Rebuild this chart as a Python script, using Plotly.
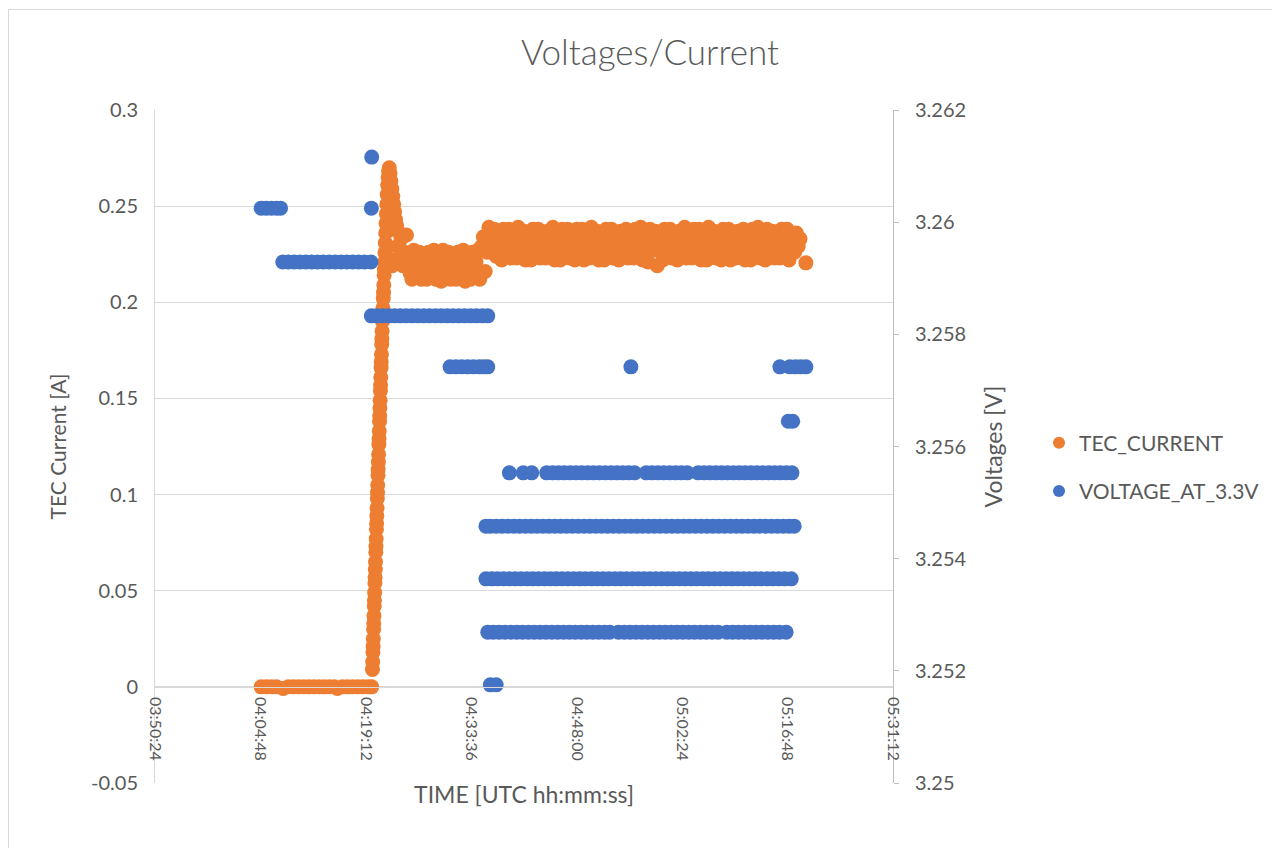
import pandas as pd
import plotly.graph_objects as go

# ---------------- data ----------------
DAY = "2021-01-01"
REF = pd.Timestamp(f"{DAY} 04:00:00")          # times below are minutes after 04:00:00

X_TICK_LABELS = ["03:50:24", "04:04:48", "04:19:12", "04:33:36",
                 "04:48:00", "05:02:24", "05:16:48", "05:31:12"]
Y1_TICK_VALS = [-0.05, 0, 0.05, 0.1, 0.15, 0.2, 0.25, 0.3]
Y1_TICK_TEXT = ["-0.05", "0", "0.05", "0.1", "0.15", "0.2", "0.25", "0.3"]
Y2_TICK_VALS = [3.25, 3.252, 3.254, 3.256, 3.258, 3.26, 3.262]
Y2_TICK_TEXT = ["3.25", "3.252", "3.254", "3.256", "3.258", "3.26", "3.262"]

# TEC_CURRENT [A]
TEC_ZERO_MIN = [4.9, 5.6, 6.3, 7.0, 7.9, 8.6, 9.3, 10.0, 10.7, 11.4, 12.1, 12.8,
                13.5, 14.2, 14.9, 15.3, 16.0, 16.7, 17.4, 18.1, 18.8, 19.5, 20.0]
TEC_ZERO_A = [0, 0, 0, 0, -0.0008, 0, 0, 0, 0, 0, 0, 0,
              0, 0, 0, -0.0008, 0, 0, 0, 0, 0, 0, 0]

TEC_RISE_MIN = [20.10, 20.13, 20.17, 20.19, 20.22, 20.26, 20.28, 20.31, 20.35, 20.37,
                20.40, 20.44, 20.46, 20.49, 20.52, 20.56, 20.58, 20.61, 20.65, 20.67,
                20.70, 20.73, 20.77, 20.79, 20.82, 20.86, 20.88, 20.91, 20.94, 20.98,
                21.00, 21.03, 21.07, 21.09, 21.12, 21.15, 21.19, 21.21, 21.24, 21.28,
                21.30, 21.33, 21.37, 21.39, 21.42, 21.46, 21.49, 21.53, 21.58, 21.61,
                21.65, 21.70, 21.73, 21.77, 21.82,
                21.86, 21.91, 21.96, 22.01, 22.06, 22.12, 22.18, 22.24, 22.31, 22.40,
                22.50, 22.62, 22.75, 22.88, 23.00, 23.12, 23.25, 23.40, 23.55,
                22.50, 22.80, 23.05]
TEC_RISE_A = [0.009, 0.013, 0.018, 0.021, 0.025, 0.030, 0.033, 0.037, 0.042, 0.045,
              0.049, 0.054, 0.057, 0.061, 0.065, 0.070, 0.073, 0.077, 0.082, 0.085,
              0.089, 0.093, 0.098, 0.101, 0.105, 0.110, 0.113, 0.117, 0.121, 0.126,
              0.129, 0.133, 0.138, 0.141, 0.145, 0.149, 0.154, 0.157, 0.161, 0.166,
              0.169, 0.173, 0.178, 0.181, 0.185, 0.190, 0.193, 0.197, 0.202, 0.205,
              0.209, 0.214, 0.217, 0.221, 0.226,
              0.231, 0.236, 0.241, 0.246, 0.251, 0.256, 0.261, 0.265, 0.268, 0.270,
              0.267, 0.263, 0.259, 0.255, 0.251, 0.247, 0.243, 0.240, 0.237,
              0.221, 0.219, 0.222]

TEC_LOW_MIN = [23.5, 23.75, 24.0, 24.25, 24.5, 24.75, 25.0, 25.25,
               25.5, 25.75, 26.0, 26.25, 26.5, 26.75, 27.0, 27.25,
               27.5, 27.75, 28.0, 28.25, 28.5, 28.75, 29.0, 29.25,
               29.5, 29.75, 30.0, 30.25, 30.5, 30.75, 31.0, 31.25,
               31.5, 31.75, 32.0, 32.25, 32.5, 32.75, 33.0, 33.25,
               33.5, 33.75, 34.0, 34.25, 34.5, 34.75, 35.0, 35.25,
               35.5]
TEC_LOW_A = [0.229, 0.221, 0.233, 0.219, 0.226, 0.235, 0.222, 0.215,
             0.212, 0.227, 0.217, 0.222, 0.226, 0.212, 0.221, 0.216,
             0.212, 0.226, 0.216, 0.221, 0.227, 0.212, 0.222, 0.217,
             0.211, 0.227, 0.217, 0.222, 0.226, 0.212, 0.221, 0.216,
             0.212, 0.226, 0.216, 0.221, 0.227, 0.211, 0.222, 0.217,
             0.212, 0.226, 0.217, 0.221, 0.227, 0.212, 0.229, 0.234,
             0.216]

TEC_HIGH_MIN = [35.75, 36.0, 36.25, 36.5, 36.75, 37.0, 37.25, 37.5,
                37.75, 38.0, 38.25, 38.5, 38.75, 39.0, 39.25, 39.5,
                39.75, 40.0, 40.25, 40.5, 40.75, 41.0, 41.25, 41.5,
                41.75, 42.0, 42.25, 42.5, 42.75, 43.0, 43.25, 43.5,
                43.75, 44.0, 44.25, 44.5, 44.75, 45.0, 45.25, 45.5,
                45.75, 46.0, 46.25, 46.5, 46.75, 47.0, 47.25, 47.5,
                47.75, 48.0, 48.25, 48.5, 48.75, 49.0, 49.25, 49.5,
                49.75, 50.0, 50.25, 50.5, 50.75, 51.0, 51.25, 51.5,
                51.75, 52.0, 52.25, 52.5, 52.75, 53.0, 53.25, 53.5,
                53.75, 54.0, 54.25, 54.5, 54.75, 55.0, 55.25, 55.5,
                55.75, 56.0, 56.25, 56.5, 56.75, 57.0, 57.25, 57.5,
                57.75, 58.0, 58.25, 58.5, 58.75, 59.0, 59.25, 59.5,
                59.75, 60.0, 60.25, 60.5, 60.75, 61.0, 61.25, 61.5,
                61.75, 62.0, 62.25, 62.5, 62.75, 63.0, 63.25, 63.5,
                63.75, 64.0, 64.25, 64.5, 64.75, 65.0, 65.25, 65.5,
                65.75, 66.0, 66.25, 66.5, 66.75, 67.0, 67.25, 67.5,
                67.75, 68.0, 68.25, 68.5, 68.75, 69.0, 69.25, 69.5,
                69.75, 70.0, 70.25, 70.5, 70.75, 71.0, 71.25, 71.5,
                71.75, 72.0, 72.25, 72.5, 72.75, 73.0, 73.25, 73.5,
                73.75, 74.0, 74.25, 74.5, 74.75, 75.0, 75.25, 75.5,
                75.75, 76.0, 76.25, 76.5, 76.75, 77.0, 77.25, 77.5,
                77.75, 78.0, 78.25, 78.5, 79.3]
TEC_HIGH_A = [0.226, 0.239, 0.229, 0.234, 0.238, 0.224, 0.233, 0.228,
              0.222, 0.238, 0.228, 0.233, 0.238, 0.223, 0.233, 0.228,
              0.223, 0.239, 0.228, 0.233, 0.237, 0.222, 0.232, 0.228,
              0.222, 0.238, 0.227, 0.233, 0.238, 0.223, 0.233, 0.228,
              0.223, 0.237, 0.228, 0.232, 0.239, 0.222, 0.233, 0.228,
              0.222, 0.238, 0.228, 0.233, 0.238, 0.223, 0.232, 0.227,
              0.222, 0.238, 0.227, 0.233, 0.238, 0.222, 0.233, 0.228,
              0.223, 0.239, 0.228, 0.233, 0.237, 0.222, 0.232, 0.228,
              0.222, 0.238, 0.228, 0.233, 0.238, 0.223, 0.233, 0.228,
              0.222, 0.237, 0.227, 0.232, 0.238, 0.223, 0.233, 0.228,
              0.223, 0.238, 0.228, 0.233, 0.239, 0.222, 0.233, 0.228,
              0.221, 0.238, 0.227, 0.233, 0.237, 0.219, 0.232, 0.226,
              0.222, 0.238, 0.228, 0.233, 0.238, 0.223, 0.233, 0.228,
              0.222, 0.237, 0.228, 0.232, 0.239, 0.223, 0.233, 0.228,
              0.223, 0.238, 0.228, 0.233, 0.238, 0.222, 0.233, 0.227,
              0.222, 0.239, 0.228, 0.233, 0.237, 0.223, 0.232, 0.228,
              0.222, 0.238, 0.227, 0.233, 0.238, 0.222, 0.233, 0.228,
              0.223, 0.237, 0.228, 0.232, 0.238, 0.222, 0.233, 0.228,
              0.222, 0.238, 0.228, 0.233, 0.239, 0.223, 0.233, 0.228,
              0.222, 0.238, 0.227, 0.233, 0.237, 0.223, 0.232, 0.228,
              0.223, 0.238, 0.228, 0.233, 0.238, 0.222, 0.233, 0.228,
              0.226, 0.236, 0.229, 0.233, 0.2205]

# VOLTAGE_AT_3.3V [V] : minutes after 04:00:00 at which each reading level occurs
V_3_26116_MIN = [20.0]
V_3_26025_MIN = [4.9, 5.6, 6.3, 7.0, 7.55, 19.95]
V_3_25929_MIN = [7.85, 8.6, 9.4, 10.2, 11.0, 11.8, 12.6, 13.4, 14.2, 15.0, 15.8, 16.6,
                 17.4, 18.2, 19.0, 19.9]
V_3_25833_MIN = [19.95, 20.7, 21.5, 22.3, 23.1, 23.9, 24.7, 25.5, 26.3, 27.1, 27.9,
                 28.7, 29.5, 30.3, 31.1, 31.9, 32.7, 33.5, 34.3, 35.1, 35.85]
V_3_25742_MIN = [30.7, 31.5, 32.3, 33.1, 33.9, 34.7, 35.3, 35.85, 55.4,
                 75.75, 77.1, 77.9, 78.6, 79.3]
V_3_25645_MIN = [76.9, 77.5]
V_3_25553_MIN = [38.8, 40.7, 41.85, 43.9, 44.7, 45.5, 46.3, 47.1, 47.9, 48.7, 49.5,
                 50.3, 51.1, 51.9, 52.7, 53.5, 54.3, 55.1, 55.9, 57.5, 58.3, 59.1,
                 59.9, 60.7, 61.5, 62.3, 63.1, 64.6, 65.4, 66.2, 67.0, 67.8, 68.6,
                 69.4, 70.2, 71.0, 71.8, 72.6, 73.4, 74.2, 75.0, 75.8, 76.6, 77.4]
V_3_25458_MIN = [35.6, 36.2, 37.0, 37.8, 38.6, 39.4, 40.2, 41.0, 41.8, 42.6, 43.4,
                 44.2, 45.0, 45.8, 46.6, 47.4, 48.2, 49.0, 49.8, 50.6, 51.4, 52.2,
                 53.0, 53.8, 54.6, 55.4, 56.2, 57.0, 57.8, 58.6, 59.4, 60.2, 61.0,
                 61.8, 62.6, 63.4, 64.2, 65.0, 65.8, 66.6, 67.4, 68.2, 69.0, 69.8,
                 70.6, 71.4, 72.2, 73.0, 73.8, 74.6, 75.4, 76.2, 77.0, 77.7]
V_3_25364_MIN = [35.6, 36.4, 37.2, 38.0, 38.8, 39.6, 40.4, 41.2, 42.0, 42.8, 43.6,
                 44.4, 45.2, 46.0, 46.8, 47.6, 48.4, 49.2, 50.0, 50.8, 51.6, 52.4,
                 53.2, 54.0, 54.8, 55.6, 56.4, 57.2, 58.0, 58.8, 59.6, 60.4, 61.2,
                 62.0, 62.8, 63.6, 64.4, 65.2, 66.0, 66.8, 67.6, 68.4, 69.2, 70.0,
                 70.8, 71.6, 72.4, 73.2, 74.0, 74.8, 75.6, 76.4, 77.3]
V_3_25269_MIN = [35.85, 36.6, 37.4, 38.2, 39.0, 39.8, 40.6, 41.4, 42.2, 43.0, 43.8,
                 44.6, 45.4, 46.2, 47.0, 47.8, 48.6, 49.4, 50.2, 51.0, 51.8, 52.5,
                 53.7, 54.5, 55.3, 56.1, 56.9, 57.7, 58.5, 59.3, 60.1, 60.9, 61.7,
                 62.5, 63.3, 64.1, 64.9, 65.7, 66.5, 67.3, 68.5, 69.3, 70.1, 70.9,
                 71.7, 72.5, 73.3, 74.1, 74.9, 75.7, 76.6]
V_3_25175_MIN = [36.2, 37.0]

VOLTAGE_LEVELS = [3.26116, 3.26025, 3.25929, 3.25833, 3.25742, 3.25645,
                  3.25553, 3.25458, 3.25364, 3.25269, 3.25175]
VOLTAGE_LEVEL_TIMES = [V_3_26116_MIN, V_3_26025_MIN, V_3_25929_MIN, V_3_25833_MIN,
                       V_3_25742_MIN, V_3_25645_MIN, V_3_25553_MIN, V_3_25458_MIN,
                       V_3_25364_MIN, V_3_25269_MIN, V_3_25175_MIN]

# ---------------- build ----------------
def to_time(mins):
    return [REF + pd.Timedelta(minutes=m) for m in mins]

tec_min = TEC_ZERO_MIN + TEC_RISE_MIN + TEC_LOW_MIN + TEC_HIGH_MIN
tec_val = TEC_ZERO_A + TEC_RISE_A + TEC_LOW_A + TEC_HIGH_A

v_min, v_val = [], []
for level, times in zip(VOLTAGE_LEVELS, VOLTAGE_LEVEL_TIMES):
    v_min += times
    v_val += [level] * len(times)

ORANGE = "#ED7D31"
BLUE = "#4472C4"
GRID = "#d9d9d9"
TEXT = "#595959"
FONT = "Lato, Carlito, 'Open Sans', sans-serif"
MS = 15

fig = go.Figure()
fig.add_trace(go.Scatter(
    x=to_time(tec_min), y=tec_val, mode="markers", name="TEC_CURRENT",
    marker=dict(color=ORANGE, size=MS, line=dict(width=0)),
    legendgroup="a", yaxis="y"))
fig.add_trace(go.Scatter(
    x=to_time(v_min), y=v_val, mode="markers", name="VOLTAGE_AT_3.3V",
    marker=dict(color=BLUE, size=MS, line=dict(width=0)),
    legendgroup="b", yaxis="y2"))

x_tickvals = [pd.Timestamp(f"{DAY} {t}") for t in X_TICK_LABELS]

# the page body adds an 8 px offset, so the figure is 8 px smaller than the window
W, H = 1272, 840
fig.update_layout(
    width=W, height=H,
    margin=dict(l=147, r=387, t=102, b=65),
    paper_bgcolor="white", plot_bgcolor="white",
    font=dict(family=FONT, color=TEXT, size=20),
    title=dict(text="Voltages/Current", x=642 / W, xref="container", xanchor="center",
               y=1 - 45 / H, yref="container", yanchor="middle",
               font=dict(size=35, color=TEXT, family=FONT, weight=300)),
    legend=dict(x=(1039 - 155) / 738, y=(783 - 467) / 673, xanchor="left", yanchor="middle",
                font=dict(size=21, color=TEXT), tracegroupgap=18, itemsizing="constant",
                bgcolor="rgba(0,0,0,0)"),
    xaxis=dict(type="date", range=[x_tickvals[0], x_tickvals[-1]],
               tickvals=x_tickvals, ticktext=X_TICK_LABELS, tickangle=90,
               tickfont=dict(size=16, color=TEXT), showgrid=False, zeroline=False,
               showline=True, linecolor=GRID, linewidth=1, ticks="",
               anchor="free", position=0.05 / 0.35, ticklabelstandoff=6,
               title=dict(text="TIME [UTC hh:mm:ss]", standoff=27,
                          font=dict(size=23, color=TEXT))),
    yaxis=dict(range=[-0.05, 0.3], tickvals=Y1_TICK_VALS, ticktext=Y1_TICK_TEXT,
               showgrid=True, gridcolor=GRID, gridwidth=1, zeroline=False,
               showline=True, linecolor=GRID, ticks="", ticklabelstandoff=12,
               tickfont=dict(size=20, color=TEXT),
               title=dict(text="TEC Current [A]", standoff=18, font=dict(size=21, color=TEXT))),
    yaxis2=dict(range=[3.25, 3.262], tickvals=Y2_TICK_VALS, ticktext=Y2_TICK_TEXT,
                overlaying="y", side="right", showgrid=False, zeroline=False,
                showline=True, linecolor="#bfbfbf", ticks="outside", ticklen=5,
                tickcolor="#bfbfbf", ticklabelstandoff=12,
                tickfont=dict(size=20, color=TEXT),
                title=dict(text="Voltages [V]", standoff=20, font=dict(size=23, color=TEXT))),
    shapes=[dict(type="rect", xref="paper", yref="paper",
                 x0=(8.5 - 155) / 738, x1=1.7, y0=-0.3, y1=(783 - 9.5) / 673,
                 line=dict(color=GRID, width=1), fillcolor="rgba(0,0,0,0)", layer="below")],
)

fig.write_html("out.html")
